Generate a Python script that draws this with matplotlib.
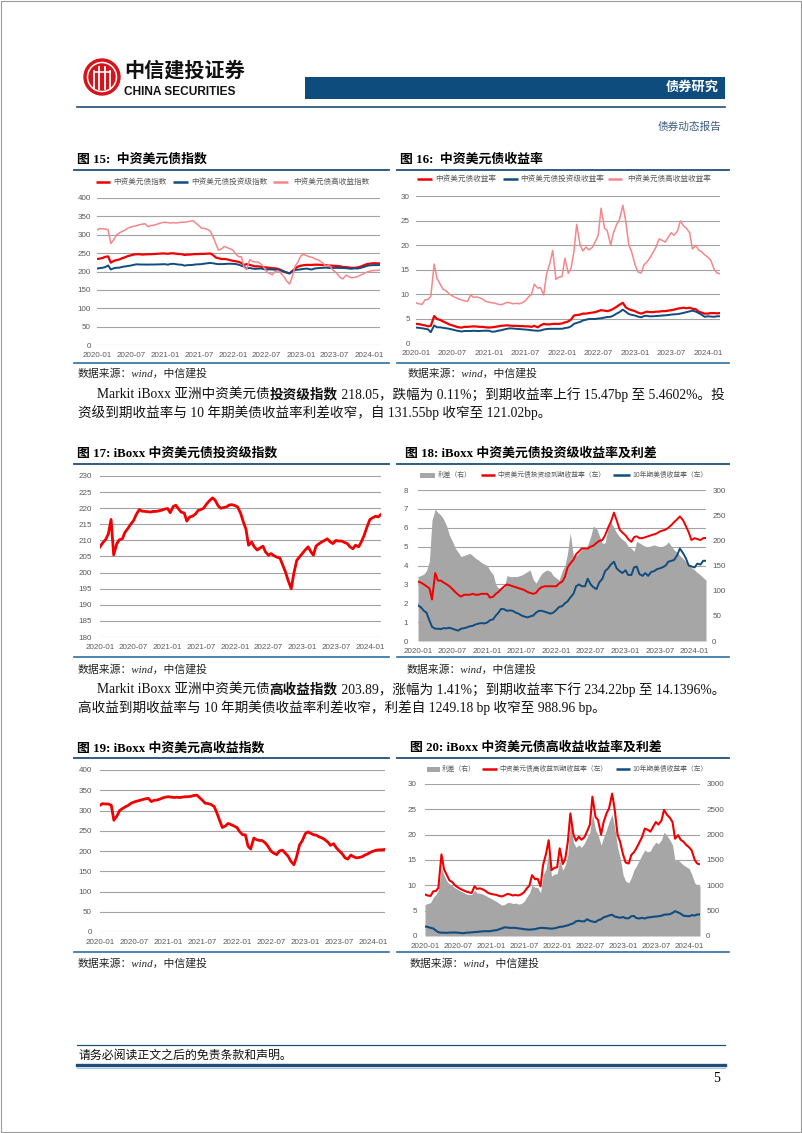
import numpy as np
import pandas as pd
import matplotlib
matplotlib.use('Agg')
import matplotlib.pyplot as plt
import matplotlib.dates as mdates
from matplotlib.patches import Rectangle, Circle

W, H = 802, 1133
SERIF = ['Liberation Serif', 'Noto Sans CJK SC']
SANS = ['Liberation Sans', 'Noto Sans CJK SC']
plt.rcParams['font.family'] = SANS

RED = '#f00000'
NAVY = '#104c80'
PINK = '#f4878b'
GREY = '#a6a6a6'
DARK = '#1f4e79'
TICK = '#595959'

# semi-monthly observations, 2020-01-01 .. 2024-03-01
dates = pd.date_range('2020-01-01', '2024-03-01', freq='SMS')

# iBoxx 中资美元债投资级指数
ig_index = [208.0, 209.2, 210.3, 212.0, 216.5, 205.5, 209.0, 210.2, 210.5, 212.5,
            213.8, 215.0, 216.2, 218.0, 219.6, 219.1, 219.0, 218.9, 218.8, 219.0,
            219.0, 219.2, 219.4, 219.7, 219.9, 218.6, 220.6, 220.9, 219.8, 218.8,
            218.5, 216.0, 217.3, 217.5, 218.2, 219.3, 219.6, 220.0, 221.4, 222.3,
            223.2, 222.5, 220.8, 220.0, 220.2, 220.4, 221.0, 221.1, 220.8, 220.4,
            218.3, 215.7, 213.5, 208.5, 209.5, 208.0, 207.0, 207.6, 208.2, 206.4,
            205.4, 205.9, 205.2, 204.8, 204.5, 202.5, 200.2, 197.6, 195.0, 199.7,
            203.8, 204.8, 206.0, 207.0, 208.0, 206.5, 205.4, 208.2, 209.0, 209.5,
            210.0, 210.5, 209.5, 209.0, 210.0, 209.8, 209.8, 209.4, 209.0, 208.0,
            207.4, 208.5, 208.0, 209.5, 211.6, 214.0, 216.5, 217.0, 217.5, 217.3,
            218.05]
# 中资美元债指数
all_index = [234, 235, 237, 240, 241, 224, 229, 231, 233, 236,
             239, 242, 244, 246, 247, 247, 246, 246.5, 247, 247,
             247.5, 248, 248.5, 249, 249, 248, 249.5, 249.5, 248.5, 247.5,
             247, 245, 246, 246, 247, 247.5, 247.5, 248, 248, 248.5,
             249, 245, 238, 236, 234, 234, 233, 231, 229, 228,
             226, 223, 218, 220, 218, 216, 214, 214, 213, 212,
             211, 210, 209, 208.5, 207, 204, 200, 197, 195, 201,
             208, 213, 216, 217, 218, 218, 218, 218.5, 218.5, 218,
             217.5, 217, 216.5, 216, 215.5, 215, 214, 212, 212, 211,
             210, 210, 211, 213, 216, 219, 221, 222, 222.5, 222,
             222]
# 中资美元债高收益指数
hy_index = [313, 317, 316, 316, 313, 276, 287, 300, 305, 309,
            313, 318, 321, 323, 325, 327, 329, 330, 322, 325,
            326, 328, 331, 333, 334, 333, 332, 333, 332, 333,
            334, 334, 335, 337, 338, 332, 325, 318, 317, 315,
            310, 295, 275, 258, 262, 268, 265, 262, 258, 248,
            240, 240, 212, 205, 232, 228, 226, 226, 220, 212,
            200, 195, 191, 200, 202, 195, 187, 175, 166, 185,
            215, 225, 243, 247, 243, 240, 239, 235, 232, 228,
            222, 214, 218, 208, 200, 194, 183, 180, 190, 186,
            183, 184, 186, 190, 193, 197, 200, 202, 203, 203,
            204]
# 高收益到期收益率 (%)
hy_yield = [8.2, 8.0, 7.9, 8.8, 8.9, 9.5, 16.1, 13.2, 12.0, 11.0,
            10.6, 10.0, 9.6, 9.3, 9.0, 8.8, 8.6, 8.5, 9.8, 9.3,
            9.4, 9.2, 8.9, 8.5, 8.3, 8.2, 8.1, 7.9, 7.8, 8.0,
            8.3, 8.2, 8.0, 8.1, 8.0, 8.2, 8.6, 9.3, 10.0, 12.0,
            11.2, 11.3, 9.8, 14.0, 16.3, 18.9, 13.0, 13.4, 13.6, 17.3,
            14.2, 15.3, 18.6, 24.2, 20.0, 18.8, 19.6, 19.0, 19.5, 20.6,
            22.0, 27.5, 23.5, 22.9, 20.0, 22.5, 24.2, 25.2, 28.1, 25.0,
            20.0, 18.6, 16.0, 14.5, 14.3, 16.0, 16.5, 17.3, 18.5, 19.5,
            21.2, 21.0, 20.6, 21.5, 22.5, 22.0, 22.8, 24.9, 23.9, 23.4,
            22.5, 19.2, 19.9, 19.0, 18.6, 18.0, 17.5, 16.9, 15.0, 14.3,
            14.14]
# 投资级到期收益率 (%)
ig_yield = [3.15, 3.1, 3.0, 2.9, 2.8, 2.2, 3.6, 3.2, 3.2, 3.1,
            3.0, 2.9, 2.75, 2.6, 2.45, 2.35, 2.45, 2.45, 2.45, 2.5,
            2.45, 2.45, 2.5, 2.5, 2.5, 2.3, 2.35, 2.5, 2.6, 2.75,
            2.9, 3.0, 2.95, 2.9, 2.85, 2.8, 2.75, 2.7, 2.6, 2.55,
            2.5, 2.55, 2.75, 2.85, 2.9, 2.9, 2.9, 2.9, 2.9, 3.05,
            3.15, 3.4, 3.9, 4.1, 4.3, 4.6, 4.75, 4.9, 4.9, 4.9,
            5.0, 5.05, 5.2, 5.3, 5.35, 5.6, 6.0, 6.3, 6.8, 6.4,
            5.9, 5.75, 5.6, 5.4, 5.25, 5.5, 5.55, 5.45, 5.45, 5.5,
            5.55, 5.6, 5.65, 5.7, 5.8, 5.85, 5.9, 6.0, 6.15, 6.3,
            6.45, 6.6, 6.4, 6.1, 5.75, 5.35, 5.45, 5.4, 5.35, 5.45,
            5.46]
# 中资美元债收益率 (%)
all_yield = [3.9, 3.85, 3.7, 3.6, 3.4, 3.5, 5.5, 4.9, 4.7, 4.4,
             4.1, 3.8, 3.6, 3.4, 3.2, 3.15, 3.3, 3.3, 3.35, 3.4,
             3.35, 3.3, 3.3, 3.2, 3.15, 3.2, 3.3, 3.4, 3.5, 3.55,
             3.6, 3.55, 3.5, 3.5, 3.45, 3.45, 3.4, 3.4, 3.3, 3.5,
             3.2, 3.6, 3.9, 3.8, 3.8, 3.9, 3.9, 3.9, 4.0, 4.2,
             4.4, 4.8, 5.6, 5.7, 5.8, 6.0, 6.0, 6.1, 6.2, 6.3,
             6.5, 6.7, 6.6, 6.5, 6.7, 7.0, 7.4, 7.8, 8.2, 7.3,
             6.9, 6.7, 6.5, 6.2, 6.0, 6.2, 6.4, 6.3, 6.3, 6.4,
             6.4, 6.5, 6.5, 6.6, 6.7, 6.8, 7.0, 7.1, 7.2, 7.1,
             7.2, 7.0, 6.9, 6.4, 6.2, 6.0, 6.0, 6.1, 6.1, 6.05,
             6.1]
# 10年期美债收益率 (%)
ust10 = [1.88, 1.8, 1.6, 1.5, 1.1, 0.75, 0.65, 0.65, 0.63, 0.68,
         0.67, 0.7, 0.65, 0.6, 0.55, 0.65, 0.68, 0.72, 0.78, 0.8,
         0.88, 0.92, 0.95, 0.93, 0.98, 1.1, 1.15, 1.35, 1.5, 1.7,
         1.68, 1.6, 1.62, 1.6, 1.5, 1.45, 1.35, 1.3, 1.25, 1.3,
         1.35, 1.5, 1.6, 1.6, 1.55, 1.5, 1.45, 1.5, 1.65, 1.8,
         1.85, 2.0, 2.1, 2.3, 2.5, 2.9, 3.0, 2.9, 2.9, 3.3,
         3.0, 2.85, 2.75, 3.1, 3.3, 3.7, 3.85, 4.05, 4.2, 3.85,
         3.7, 3.6, 3.75, 3.5, 3.5, 3.9, 3.95, 3.55, 3.45, 3.6,
         3.45, 3.65, 3.7, 3.8, 3.85, 3.9, 4.0, 4.2, 4.25, 4.3,
         4.55, 4.9, 4.65, 4.4, 4.0, 3.95, 3.9, 4.1, 4.05, 4.25,
         4.25]
# 投资级利差 (bp)
ig_spread = [128, 130, 133, 140, 158, 240, 262, 255, 250, 242,
             228, 210, 198, 185, 176, 168, 170, 172, 174, 170,
             164, 161, 156, 153, 150, 140, 132, 112, 105, 105,
             106, 130, 128, 128, 128, 129, 131, 134, 138, 141,
             122, 115, 125, 134, 139, 141, 138, 130, 125, 121,
             140, 150, 175, 215, 168, 170, 175, 182, 186, 190,
             208, 228, 224, 210, 194, 195, 225, 237, 225, 215,
             207, 202, 197, 188, 184, 178, 198, 195, 191, 188,
             187, 189, 191, 189, 187, 188, 191, 197, 188, 181,
             176, 170, 164, 158, 151, 146, 141, 136, 131, 126,
             121]
# 高收益利差 (bp)
hy_spread = [620, 640, 660, 760, 820, 900, 1350, 1200, 1080, 1030,
             990, 950, 920, 890, 860, 830, 815, 820, 900, 850,
             840, 830, 800, 770, 740, 710, 680, 640, 610, 620,
             660, 660, 640, 650, 630, 640, 680, 760, 850, 1000,
             960, 960, 850, 1200, 1330, 1660, 1180, 1220, 1230, 1500,
             1300, 1400, 1600, 2250, 1850, 1750, 1800, 1750, 1830, 1940,
             2050, 2420, 2100, 2000, 1790, 1950, 2100, 2250, 2400, 2150,
             1750, 1550, 1200, 1080, 1050, 1150, 1300, 1380, 1500, 1600,
             1700, 1660, 1680, 1780, 1850, 1820, 1900, 2050, 1980, 1900,
             1800, 1480, 1500, 1450, 1400, 1370, 1330, 1220, 1050, 1000,
             989]

fig = plt.figure(figsize=(W / 100, H / 100), dpi=100)
page = fig.add_axes([0, 0, 1, 1])
page.set_xlim(0, W)
page.set_ylim(H, 0)
page.axis('off')
rend = fig.canvas.get_renderer()


def box(x0, y0, x1, y1):
    return [x0 / W, 1 - y1 / H, (x1 - x0) / W, (y1 - y0) / H]


def style(ax, lo, hi, step, pad=4.5):
    ax.set_xlim(dates[0], dates[-1])
    ax.set_ylim(lo, hi)
    ax.set_yticks(np.arange(lo, hi + step / 2, step))
    ax.xaxis.set_major_locator(mdates.MonthLocator(bymonth=[1, 7]))
    ax.xaxis.set_major_formatter(mdates.DateFormatter('%Y-%m'))
    ax.grid(axis='y', color='#a3a3a3', lw=0.8)
    ax.set_axisbelow(True)
    for s in ax.spines.values():
        s.set_visible(False)
    ax.tick_params(length=0, labelsize=5.8, labelcolor=TICK, pad=pad)
    ax.tick_params(axis='x', pad=5)


def right_axis(ax, lo, hi, step):
    ax.set_ylim(lo, hi)
    ax.set_yticks(np.arange(lo, hi + step / 2, step))
    for s in ax.spines.values():
        s.set_visible(False)
    ax.tick_params(length=0, labelsize=5.8, labelcolor=TICK, pad=4.5)


def legend(items, y, size=5.5):
    for x0, x1, x2, color, kind, label in items:
        if kind == 'area':
            page.add_patch(Rectangle((x0, y - 2.5), x1 - x0, 5, color=GREY, lw=0))
        else:
            page.plot([x0, x1], [y, y], color=color, lw=1.8, solid_capstyle='butt')
        page.text(x2, y, label, fontsize=size, color=TICK, va='center', ha='left')


def title(x, y, s):
    page.text(x, y, s, fontsize=9.3, fontweight='bold', family=SERIF, va='center')


def source(x, y):
    page.text(x, y, '数据来源：wind，中信建投', fontsize=7.8, style='italic',
              family=SERIF, va='center', color='#222222')


# ---- header ----
page.add_patch(Circle((102, 77), 18, color='#d6141b'))
page.add_patch(Circle((102, 77), 14.5, fill=False, ec='white', lw=1.1))
for dx, top in [(-8, 71), (-3, 67), (3, 67), (8, 71)]:
    page.plot([102 + dx, 102 + dx], [top, 89], color='white', lw=1.3)
page.plot([94, 110], [72, 72], color='white', lw=1.1)
page.text(124, 71, '中信建投证券', fontsize=14.5, fontweight='bold', va='center', color='#111111')
page.text(124, 92, 'CHINA SECURITIES', fontsize=8.6, fontweight='bold', va='center', color='#111111')
page.add_patch(Rectangle((305, 77), 420, 22, color='#0e4c7d', lw=0))
page.text(719, 88, '债券研究', fontsize=9.5, fontweight='bold', color='white', ha='right', va='center')
page.plot([77, 725], [107, 107], color=DARK, lw=1.2)
page.text(721, 127, '债券动态报告', fontsize=7.7, family=SERIF, color='#3d5d80', ha='right', va='center')

# ---- section rules ----
for y in (170, 464, 758):
    page.plot([74, 389], [y, y], color=DARK, lw=1.3)
    page.plot([397, 729], [y, y], color=DARK, lw=1.3)
for y in (363, 657, 952):
    page.plot([74, 389], [y, y], color='#2f6ea5', lw=1.2)
    page.plot([397, 729], [y, y], color='#2f6ea5', lw=1.2)

# ---- chart 15 ----
title(77, 160, '图 15:  中资美元债指数')
legend([(96, 110, 113, RED, 'line', '中资美元债指数'),
        (173, 188, 191, NAVY, 'line', '中资美元债投资级指数'),
        (273, 288, 293, PINK, 'line', '中资美元债高收益指数')], 182)
ax15 = fig.add_axes(box(97, 198, 380, 345))
ax15.plot(dates, all_index, color=RED, lw=1.6)
ax15.plot(dates, ig_index, color=NAVY, lw=1.4)
ax15.plot(dates, hy_index, color=PINK, lw=1.1)
style(ax15, 0, 400, 50)
source(78, 373)

# ---- chart 16 ----
title(400, 160, '图 16:  中资美元债收益率')
legend([(417, 432, 435, RED, 'line', '中资美元债收益率'),
        (503, 518, 520, NAVY, 'line', '中资美元债投资级收益率'),
        (608, 622, 627, PINK, 'line', '中资美元债高收益收益率')], 179)
ax16 = fig.add_axes(box(416, 196, 720, 343))
ax16.plot(dates, all_yield, color=RED, lw=1.6)
ax16.plot(dates, ig_yield, color=NAVY, lw=1.4)
ax16.plot(dates, hy_yield, color=PINK, lw=1.1)
style(ax16, 0, 30, 5)
source(408, 373)

# ---- body text ----
def parts_width(parts, size):
    w = 0
    for s, b in parts:
        t = page.text(0, 0, s, fontsize=size, family=SERIF, fontweight='bold' if b else 'normal')
        w += t.get_window_extent(rend).width
        t.remove()
    return w


def rich(x, y, parts, size):
    for s, b in parts:
        t = page.text(x, y, s, fontsize=size, family=SERIF, va='center',
                      fontweight='bold' if b else 'normal', color='#111111')
        x += t.get_window_extent(rend).width


p1a = [('Markit iBoxx 亚洲中资美元债', False), ('投资级指数', True),
       (' 218.05，跌幅为 0.11%；到期收益率上行 15.47bp 至 5.4602%。投', False)]
p1b = [('资级到期收益率与 10 年期美债收益率利差收窄，自 131.55bp 收窄至 121.02bp。', False)]
p2a = [('Markit iBoxx 亚洲中资美元债', False), ('高收益指数', True),
       (' 203.89，涨幅为 1.41%；到期收益率下行 234.22bp 至 14.1396%。', False)]
p2b = [('高收益到期收益率与 10 年期美债收益率利差收窄，利差自 1249.18 bp 收窄至 988.96 bp。', False)]
body = 10 * (722 - 97) / parts_width(p1a, 10)
rich(97, 395, p1a, body)
rich(78, 413, p1b, body)
rich(97, 690, p2a, body)
rich(78, 708, p2b, body)

# ---- chart 17 ----
title(77, 454, '图 17: iBoxx 中资美元债投资级指数')
ax17 = fig.add_axes(box(100, 476, 381, 637))
ax17.plot(dates, ig_index, color=RED, lw=2.0)
style(ax17, 180, 230, 5, pad=6)
source(78, 669)

# ---- chart 18 ----
title(405, 454, '图 18: iBoxx 中资美元债投资级收益率及利差')
legend([(420, 435, 438, GREY, 'area', '利差（右）'),
        (481, 495, 497, RED, 'line', '中资美元债投资级到期收益率（左）'),
        (613, 630, 632, NAVY, 'line', '10年期美债收益率（左）')], 475, size=4.9)
ax18 = fig.add_axes(box(418, 490, 706, 641))
style(ax18, 0, 8, 1, pad=7)
r18 = ax18.twinx()
r18.fill_between(dates, 0, ig_spread, color=GREY, lw=0)
right_axis(r18, 0, 300, 50)
l18 = ax18.twinx()
l18.plot(dates, ig_yield, color=RED, lw=1.4)
l18.plot(dates, ust10, color=NAVY, lw=1.4)
l18.set_ylim(0, 8)
l18.yaxis.set_visible(False)
for s in l18.spines.values():
    s.set_visible(False)
source(407, 669)

# ---- chart 19 ----
title(77, 748, '图 19: iBoxx 中资美元高收益指数')
ax19 = fig.add_axes(box(100, 770, 385, 932))
ax19.plot(dates, hy_index, color=RED, lw=2.0)
style(ax19, 0, 400, 50, pad=6)
source(78, 963)

# ---- chart 20 ----
title(410, 748, '图 20: iBoxx 中资美元债高收益收益率及利差')
legend([(427, 440, 442, GREY, 'area', '利差（右）'),
        (482, 497, 499, RED, 'line', '中资美元债高收益到期收益率（左）'),
        (616, 630, 632, NAVY, 'line', '10年期美债收益率（左）')], 769, size=4.9)
ax20 = fig.add_axes(box(425, 784, 700, 936))
style(ax20, 0, 30, 5, pad=6)
r20 = ax20.twinx()
r20.fill_between(dates, 0, hy_spread, color=GREY, lw=0)
right_axis(r20, 0, 3000, 500)
l20 = ax20.twinx()
l20.plot(dates, hy_yield, color=RED, lw=1.5)
l20.plot(dates, ust10, color=NAVY, lw=1.5)
l20.set_ylim(0, 30)
l20.yaxis.set_visible(False)
for s in l20.spines.values():
    s.set_visible(False)
source(410, 963)

# ---- footer ----
page.plot([77, 725], [1045, 1045], color=DARK, lw=0.9)
page.text(79, 1056, '请务必阅读正文之后的免责条款和声明。', fontsize=8.6, family=SERIF, va='center', color='#111111')
page.plot([77, 725], [1065, 1065], color=DARK, lw=2.4)
page.plot([77, 725], [1068, 1068], color='#a9c8e6', lw=0.8)
page.text(720, 1078, '5', fontsize=10, family=SERIF, ha='right', va='center')
page.add_patch(Rectangle((0.5, 0.5), W - 2, H - 2, fill=False, ec='#9a9a9a', lw=0.8))

fig.savefig('out.png', dpi=100)
